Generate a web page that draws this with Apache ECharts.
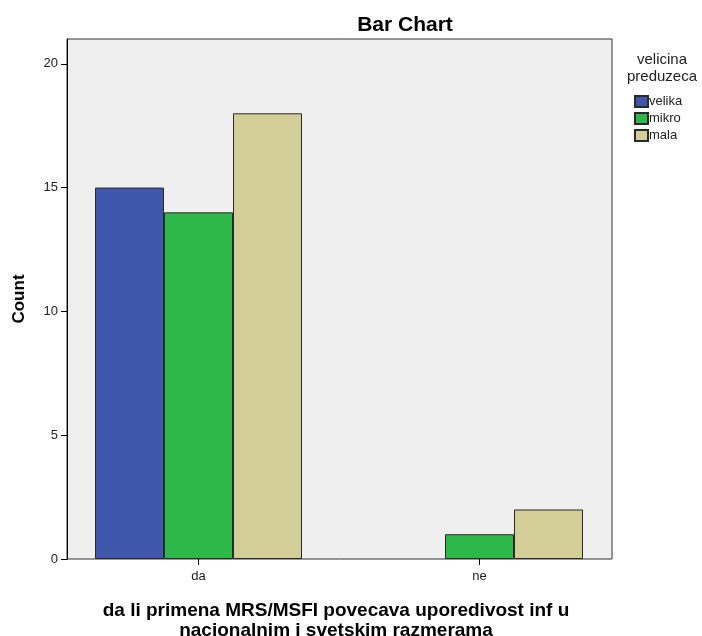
<!DOCTYPE html>
<html><head><meta charset="utf-8">
<script src="https://cdn.jsdelivr.net/npm/echarts@6/dist/echarts.min.js"></script>
<style>html,body{margin:0;padding:0;background:#fff}#c{width:702px;height:636px}</style>
</head><body><div id="c"></div>
<script>
const categories = ['da', 'ne'];
const seriesNames = ['velika', 'mikro', 'mala'];
const velika = [15, 0];
const mikro = [14, 1];
const mala = [18, 2];
const yTicks = [0, 5, 10, 15, 20];
const colors = ['#3e57ab', '#2eb84a', '#d3cd98'];

const F = 'Liberation Sans, Arial, sans-serif';
const chart = echarts.init(document.getElementById('c'));
const values = [velika, mikro, mala];
chart.setOption({
  animation: false,
  title: [
    {text: 'Bar Chart', left: 400, top: 10, textAlign: 'center',
     textStyle: {fontFamily: F, fontSize: 21, fontWeight: 'bold', color: '#000'}},
    {text: 'velicina\npreduzeca', left: 657, top: 46, textAlign: 'center',
     textStyle: {fontFamily: F, fontSize: 15, fontWeight: 'normal', color: '#222', lineHeight: 17}}
  ],
  legend: {
    orient: 'vertical', left: 634, top: 95, padding: 0, itemWidth: 13, itemHeight: 11, itemGap: 4,
    icon: 'rect', data: seriesNames,
    textStyle: {fontFamily: F, fontSize: 13, color: '#222', padding: [0, 0, 0, -4]}
  },
  grid: [
    {left: 67, top: 39, width: 545, height: 520, show: true, backgroundColor: '#efefef',
     borderColor: '#333', borderWidth: 1, containLabel: false, outerBoundsMode: 'none'},
    {left: 58, top: 39, width: 562, height: 520, containLabel: false, outerBoundsMode: 'none'}
  ],
  xAxis: [
    {gridIndex: 0, type: 'category', data: ['a'], show: false},
    {gridIndex: 1, type: 'category', data: categories,
     name: 'da li primena MRS/MSFI povecava uporedivost inf u\nnacionalnim i svetskim razmerama',
     nameLocation: 'middle', nameGap: 42,
     nameTextStyle: {fontFamily: F, fontSize: 19, fontWeight: 'bold', color: '#000', lineHeight: 20,
       padding: [0, 6, 0, 0]},
     axisLine: {show: false},
     axisTick: {show: true, alignWithLabel: true, length: 6, lineStyle: {color: '#000'}},
     axisLabel: {fontFamily: F, fontSize: 13, color: '#222', margin: 11}}
  ],
  yAxis: [
    {gridIndex: 0, type: 'value', min: 0, max: 21, interval: 5,
     name: 'Count', nameLocation: 'middle', nameGap: 39,
     nameTextStyle: {fontFamily: F, fontSize: 17, fontWeight: 'bold', color: '#000'},
     axisLine: {show: true, lineStyle: {color: '#000'}},
     axisTick: {show: true, length: 6, lineStyle: {color: '#000'}, customValues: yTicks},
     axisLabel: {fontFamily: F, fontSize: 13, color: '#222', margin: 9, customValues: yTicks},
     splitLine: {show: false}},
    {gridIndex: 1, type: 'value', min: 0, max: 21, show: false, splitLine: {show: false}}
  ],
  series: seriesNames.map((n, i) => ({
    name: n, type: 'bar', xAxisIndex: 1, yAxisIndex: 1,
    data: values[i].map(v => (v === 0 ? null : v)), barWidth: 69, barGap: '0%',
    itemStyle: {color: colors[i], borderColor: '#2a2a2a', borderWidth: 1}
  }))
});
</script></body></html>
